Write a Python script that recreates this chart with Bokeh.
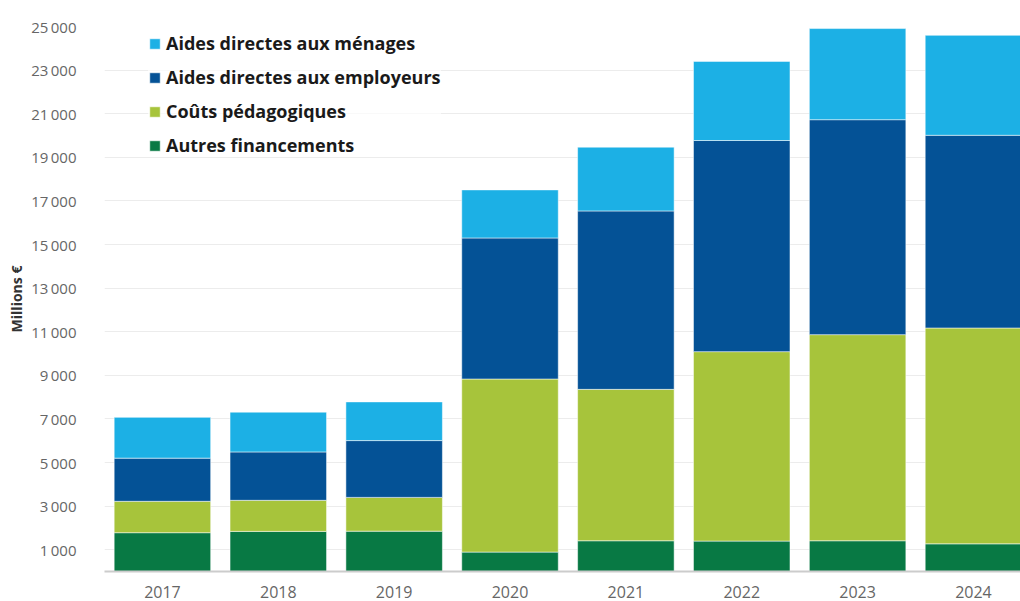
from bokeh.plotting import figure
from bokeh.models import Range1d, FixedTicker, Legend, LegendItem, ColumnDataSource
from bokeh.embed import file_html
from bokeh.resources import INLINE

years = ["2017", "2018", "2019", "2020", "2021", "2022", "2023", "2024"]
autres = [1780, 1840, 1850, 890, 1410, 1395, 1410, 1270]
couts = [1440, 1425, 1550, 7940, 6945, 8690, 9455, 9900]
employeurs = [1980, 2220, 2605, 6470, 8185, 9685, 9860, 8840]
menages = [1870, 1825, 1775, 2205, 2925, 3630, 4180, 4585]

series_keys = ["autres", "couts", "employeurs", "menages"]
series_names = ["Autres financements", "Coûts pédagogiques",
                "Aides directes aux employeurs", "Aides directes aux ménages"]
colors = ["#087944", "#a7c43b", "#045296", "#1cb0e5"]

y_ticks = [1000, 3000, 5000, 7000, 9000, 11000, 13000, 15000, 17000, 19000, 21000, 23000, 25000]
y_tick_labels = ["1\u2009000", "3\u2009000", "5\u2009000", "7\u2009000", "9\u2009000",
                 "11\u2009000", "13\u2009000", "15\u2009000", "17\u2009000", "19\u2009000",
                 "21\u2009000", "23\u2009000", "25\u2009000"]

x_idx = list(range(len(years)))
source = ColumnDataSource(dict(x=x_idx, autres=autres, couts=couts,
                               employeurs=employeurs, menages=menages))

p = figure(width=1020, height=601,
           x_range=Range1d(-0.5, 7.406), y_range=Range1d(0, 25000),
           output_backend="svg", toolbar_location=None,
           min_border_left=104, min_border_right=0, min_border_top=26, min_border_bottom=30)

renderers = p.vbar_stack(series_keys, x="x", width=0.833, source=source,
                         color=colors, line_color="white", line_width=1, line_alpha=0.5)

p.outline_line_color = None
p.background_fill_color = "white"
p.border_fill_color = "white"

# x axis
p.xaxis.ticker = FixedTicker(ticks=x_idx)
p.xaxis.major_label_overrides = {i: y for i, y in zip(x_idx, years)}
p.xaxis.major_tick_line_color = None
p.xaxis.minor_tick_line_color = None
p.xaxis.axis_line_color = "#cccccc"
p.xaxis.axis_line_width = 2
p.xaxis.major_label_text_font = "Open Sans"
p.xaxis.major_label_text_font_size = "16px"
p.xaxis.major_label_text_color = "#666666"
p.xaxis.major_label_standoff = 8
p.xgrid.grid_line_color = None

# y axis
p.yaxis.ticker = FixedTicker(ticks=y_ticks)
p.yaxis.major_label_overrides = {t: l for t, l in zip(y_ticks, y_tick_labels)}
p.yaxis.axis_line_color = None
p.yaxis.major_tick_line_color = None
p.yaxis.minor_tick_line_color = None
p.yaxis.major_label_text_font = "Open Sans"
p.yaxis.major_label_text_font_size = "15px"
p.yaxis.major_label_text_color = "#666666"
p.yaxis.major_label_standoff = 22
p.yaxis.axis_label = "Millions €"
p.yaxis.axis_label_text_font = "Open Sans"
p.yaxis.axis_label_text_font_size = "14px"
p.yaxis.axis_label_text_font_style = "bold"
p.yaxis.axis_label_text_color = "#333333"
p.yaxis.axis_label_standoff = 2
p.ygrid.ticker = FixedTicker(ticks=y_ticks)
p.ygrid.grid_line_color = "#ececec"
p.ygrid.grid_line_width = 1

# legend (top item = last stacked series)
items = [LegendItem(label=series_names[i], renderers=[renderers[i]]) for i in [3, 2, 1, 0]]
legend = Legend(items=items, location=(44, 414))
legend.label_text_font = "Open Sans"
legend.label_text_font_size = "18px"
legend.label_text_font_style = "bold"
legend.label_text_color = "#1a1a1a"
legend.glyph_width = 13
legend.glyph_height = 13
legend.label_standoff = 5
legend.label_height = 23
legend.spacing = 10
legend.padding = 0
legend.margin = 0
legend.border_line_color = None
legend.background_fill_color = "white"
legend.background_fill_alpha = 0.7
p.add_layout(legend)

open("out.html", "w").write(file_html(p, INLINE))
